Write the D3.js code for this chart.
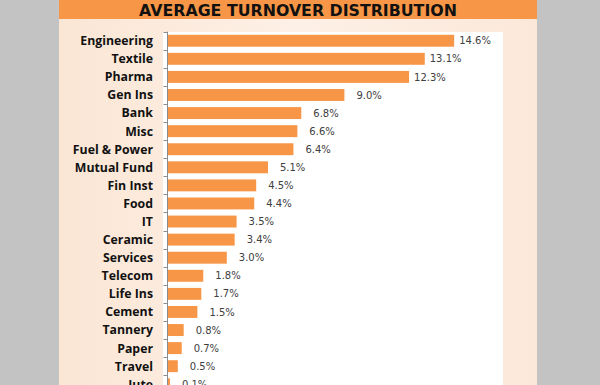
<!DOCTYPE html>
<html><head><meta charset="utf-8">
<script src="https://cdn.jsdelivr.net/npm/d3@7"></script>
<style>html,body{margin:0;padding:0;background:#c3c3c3;}svg{display:block;}</style>
</head><body>
<svg id="c" width="600" height="385"></svg>
<script>
const title = "AVERAGE TURNOVER DISTRIBUTION";
const categories = ["Engineering","Textile","Pharma","Gen Ins","Bank","Misc","Fuel & Power","Mutual Fund","Fin Inst","Food","IT","Ceramic","Services","Telecom","Life Ins","Cement","Tannery","Paper","Travel","Jute"];
const values = [14.6,13.1,12.3,9.0,6.8,6.6,6.4,5.1,4.5,4.4,3.5,3.4,3.0,1.8,1.7,1.5,0.8,0.7,0.5,0.1];

const svg = d3.select("#c");
svg.append("rect").attr("x",0).attr("y",0).attr("width",600).attr("height",385).attr("fill","#c3c3c3");
const defs = svg.append("defs");
const g1 = defs.append("linearGradient").attr("id","pg").attr("x1","0").attr("x2","1").attr("y1","0").attr("y2","0");
g1.append("stop").attr("offset","0").attr("stop-color","#fbe6d5");
g1.append("stop").attr("offset","0.5").attr("stop-color","#fdf0e6");
g1.append("stop").attr("offset","1").attr("stop-color","#fbe8d9");
svg.append("rect").attr("x",59).attr("y",0).attr("width",478).attr("height",400).attr("fill","url(#pg)");
svg.append("rect").attr("x",59).attr("y",0).attr("width",478).attr("height",19).attr("fill","#f79646");
svg.append("text").attr("x",298).attr("y",16).attr("text-anchor","middle")
  .attr("font-family","DejaVu Sans").attr("font-weight","bold").attr("font-size",15.8)
  .attr("fill","#111").text(title);
svg.append("rect").attr("x",163).attr("y",32).attr("width",340).attr("height",380).attr("fill","#ffffff");

const stepPx = 18.08;
const y = d3.scaleBand().domain(categories).range([31.7, 31.7 + categories.length*stepPx]).paddingInner(0.34).paddingOuter(0.17);
const x = d3.scaleLinear().domain([0,16]).range([168, 168+16*19.6]);

svg.append("g").selectAll("rect").data(values).join("rect")
  .attr("x", x(0))
  .attr("y", (d,i)=>y(categories[i]))
  .attr("width", d=>x(d)-x(0))
  .attr("height", y.bandwidth())
  .attr("fill","#f79646");

const axisG = svg.append("g");
const step = y.step();
const r0 = y.range()[0];
axisG.append("line").attr("x1",167.5).attr("x2",167.5).attr("y1",r0).attr("y2",r0+categories.length*step)
  .attr("stroke","#8c8c8c").attr("stroke-width",1);
axisG.selectAll("line.t").data(d3.range(categories.length+1)).join("line").attr("class","t")
  .attr("x1",163.5).attr("x2",167.5)
  .attr("y1",i=>Math.round(r0+i*step)+0.5).attr("y2",i=>Math.round(r0+i*step)+0.5)
  .attr("stroke","#8c8c8c");

svg.append("g").selectAll("text").data(categories).join("text")
  .attr("x",153).attr("y",d=>y(d)+y.bandwidth()/2).attr("dy","0.36em")
  .attr("text-anchor","end")
  .attr("font-family","Open Sans").attr("font-weight","bold").attr("font-size",12.3)
  .attr("fill","#111").text(d=>d);

svg.append("g").selectAll("text").data(values).join("text")
  .attr("x",(d)=>x(d) + (d>=12 ? 5 : 12))
  .attr("y",(d,i)=>y(categories[i])+y.bandwidth()/2).attr("dy","0.36em")
  .attr("font-family","DejaVu Sans").attr("font-size",10)
  .attr("fill","#404040").text(d=>d.toFixed(1)+"%");
</script>
</body></html>
